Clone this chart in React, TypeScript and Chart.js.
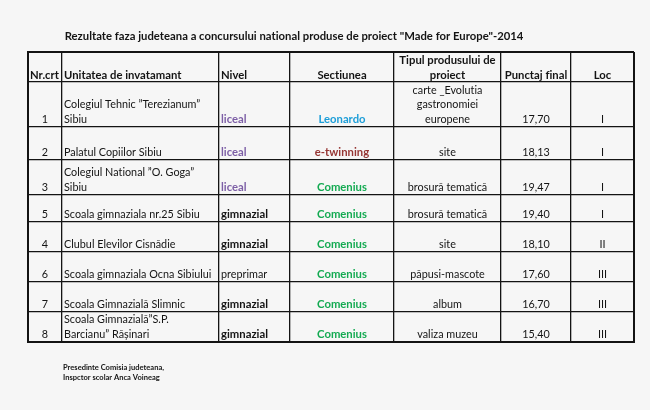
import React, { useEffect, useRef } from "react";
import { Chart, registerables } from "chart.js";

Chart.register(...registerables);

// ---------- data ----------
const title = 'Rezultate faza judeteana a concursului national produse de proiect "Made for Europe"-2014';
const headers = ["Nr.crt", "Unitatea de invatamant", "Nivel", "Sectiunea", "Tipul produsului de\nproiect", "Punctaj final", "Loc"];
const nrCrt = ["1", "2", "3", "5", "4", "6", "7", "8"];
const unitate = [
  "Colegiul Tehnic ”Terezianum”\nSibiu",
  "Palatul Copiilor Sibiu",
  "Colegiul National ”O. Goga”\nSibiu",
  "Scoala gimnaziala nr.25 Sibiu",
  "Clubul Elevilor Cisnădie",
  "Scoala gimnaziala Ocna Sibiului",
  "Scoala Gimnazială Slimnic",
  "Scoala Gimnazială”S.P.\nBarcianu” Rășinari",
];
const nivel = ["liceal", "liceal", "liceal", "gimnazial", "gimnazial", "preprimar", "gimnazial", "gimnazial"];
const sectiunea = ["Leonardo", "e-twinning", "Comenius", "Comenius", "Comenius", "Comenius", "Comenius", "Comenius"];
const tipul = [
  "carte _Evolutia\ngastronomiei\neuropene",
  "site",
  "brosură tematică",
  "brosură tematică",
  "site",
  "păpusi-mascote",
  "album",
  "valiza muzeu",
];
const punctaj = [17.7, 18.13, 19.47, 19.4, 18.1, 17.6, 16.7, 15.4];
const loc = ["I", "I", "I", "I", "II", "III", "III", "III"];
const footer = ["Presedinte Comisia judeteana,", "Inspctor scolar Anca Voineag"];

// ---------- layout (not data) ----------
const COL_WIDTHS = [34, 157, 71, 104, 107, 70, 63];
const ROW_HEIGHTS = [30, 45, 33, 35, 27, 30, 30, 30, 30];
const PAD = { left: 28, top: 52, right: 16, bottom: 68 };
const FONT_FAMILY = "Lato, 'Noto Sans', sans-serif";
const SX_REG = 0.9; // horizontal compression to mimic a narrow font
const SX_BOLD = 0.94;
const BG = "#f6f6f6";
const INK = "#141414";

const cum = (a: number[]) => a.reduce((acc: number[], v) => { acc.push(acc[acc.length - 1] + v); return acc; }, [0]);
const COL_EDGES = cum(COL_WIDTHS);
const ROW_EDGES = cum(ROW_HEIGHTS);

const nivelStyle: Record<string, { color: string; bold: boolean }> = {
  liceal: { color: "#7d5fa6", bold: true },
  gimnazial: { color: INK, bold: true },
  preprimar: { color: INK, bold: false },
};
const sectStyle: Record<string, string> = {
  Leonardo: "#1d9ed8",
  "e-twinning": "#963634",
  Comenius: "#14aa52",
};

function drawText(ctx: CanvasRenderingContext2D, text: string, x: number, y: number, align: CanvasTextAlign, font: string, color: string) {
  ctx.save();
  ctx.font = font;
  ctx.fillStyle = color;
  ctx.textAlign = align;
  ctx.textBaseline = "alphabetic";
  try { (ctx as any).letterSpacing = "0.01px"; } catch (e) { /* ignore */ }
  ctx.translate(x, y);
  ctx.scale(font.startsWith("bold") ? SX_BOLD : SX_REG, 1);
  ctx.fillText(text, 0, 0);
  ctx.restore();
}

type Cell = { text: string; align: CanvasTextAlign; font: string; color: string };

function drawCell(ctx: CanvasRenderingContext2D, cell: Cell, xl: number, xr: number, yb: number, lh: number, off: number) {
  const lines = cell.text.split("\n");
  const n = lines.length;
  lines.forEach((ln, i) => {
    const y = yb - off - (n - 1 - i) * lh;
    let x = (xl + xr) / 2;
    if (cell.align === "left") x = xl + 2;
    drawText(ctx, ln, x, y, cell.align, cell.font, cell.color);
  });
}

const tablePlugin = {
  id: "tableText",
  afterDraw(chart: any) {
    const ctx: CanvasRenderingContext2D = chart.ctx;
    const xs = chart.scales.x;
    const ys = chart.scales.y;
    const reg = `12px ${FONT_FAMILY}`;
    const bold = `bold 12px ${FONT_FAMILY}`;

    // title
    const mid = (xs.getPixelForValue(0) + xs.getPixelForValue(COL_EDGES[COL_EDGES.length - 1])) / 2;
    drawText(ctx, title, mid - 37, 40, "center", bold, INK);

    // header
    const hAlign: CanvasTextAlign[] = ["left", "left", "left", "center", "center", "center", "center"];
    const hb = ys.getPixelForValue(ROW_EDGES[1]);
    headers.forEach((h, c) => {
      drawCell(ctx, { text: h, align: hAlign[c], font: bold, color: INK },
        xs.getPixelForValue(COL_EDGES[c]), xs.getPixelForValue(COL_EDGES[c + 1]), hb, 15, 3);
    });

    // body
    nrCrt.forEach((_, r) => {
      const yb = ys.getPixelForValue(ROW_EDGES[r + 2]);
      const ns = nivelStyle[nivel[r]];
      const cells: Cell[] = [
        { text: nrCrt[r], align: "center", font: reg, color: INK },
        { text: unitate[r], align: "left", font: reg, color: INK },
        { text: nivel[r], align: "left", font: ns.bold ? bold : reg, color: ns.color },
        { text: sectiunea[r], align: "center", font: bold, color: sectStyle[sectiunea[r]] },
        { text: tipul[r], align: "center", font: reg, color: INK },
        { text: punctaj[r].toFixed(2).replace(".", ","), align: "center", font: reg, color: INK },
        { text: loc[r], align: "center", font: reg, color: INK },
      ];
      cells.forEach((cell, c) => {
        drawCell(ctx, cell, xs.getPixelForValue(COL_EDGES[c]), xs.getPixelForValue(COL_EDGES[c + 1]), yb, 14.5, 4.5);
      });
    });

    // footer
    const fx = xs.getPixelForValue(COL_EDGES[1]) + 1;
    footer.forEach((f, i) => {
      drawText(ctx, f, fx, 370 + i * 10, "left", `bold 8px ${FONT_FAMILY}`, INK);
    });
  },
};

export default function App() {
  const ref = useRef<HTMLCanvasElement | null>(null);
  useEffect(() => {
    if (!ref.current) return;
    const lastX = COL_EDGES.length - 1;
    const lastY = ROW_EDGES.length - 1;
    const chart = new Chart(ref.current, {
      type: "scatter",
      data: { datasets: [] },
      plugins: [tablePlugin],
      options: {
        responsive: false,
        animation: false,
        events: [],
        layout: { padding: PAD },
        plugins: { legend: { display: false }, tooltip: { enabled: false }, title: { display: false } },
        scales: {
          x: {
            type: "linear",
            position: "bottom",
            min: 0,
            max: COL_EDGES[lastX],
            afterBuildTicks: (s: any) => { s.ticks = COL_EDGES.map((v) => ({ value: v })); },
            ticks: { display: false },
            grid: {
              drawTicks: false,
              color: INK,
              lineWidth: (c: any) => (c.index === 0 || c.index === lastX ? 2 : 1.3),
            },
            border: { display: true, color: INK, width: 2 },
          },
          y: {
            type: "linear",
            position: "left",
            reverse: true,
            min: 0,
            max: ROW_EDGES[lastY],
            afterBuildTicks: (s: any) => { s.ticks = ROW_EDGES.map((v) => ({ value: v })); },
            ticks: { display: false },
            grid: {
              drawTicks: false,
              color: INK,
              lineWidth: (c: any) => (c.index === 0 || c.index === lastY ? 2 : 1.3),
            },
            border: { display: true, color: INK, width: 2 },
          },
        },
      },
    });
    return () => chart.destroy();
  }, []);
  return (
    <div style={{ position: "fixed", left: 0, top: 0, width: 650, height: 410, background: BG }}>
      <canvas ref={ref} width={650} height={410} style={{ display: "block" }} />
    </div>
  );
}
